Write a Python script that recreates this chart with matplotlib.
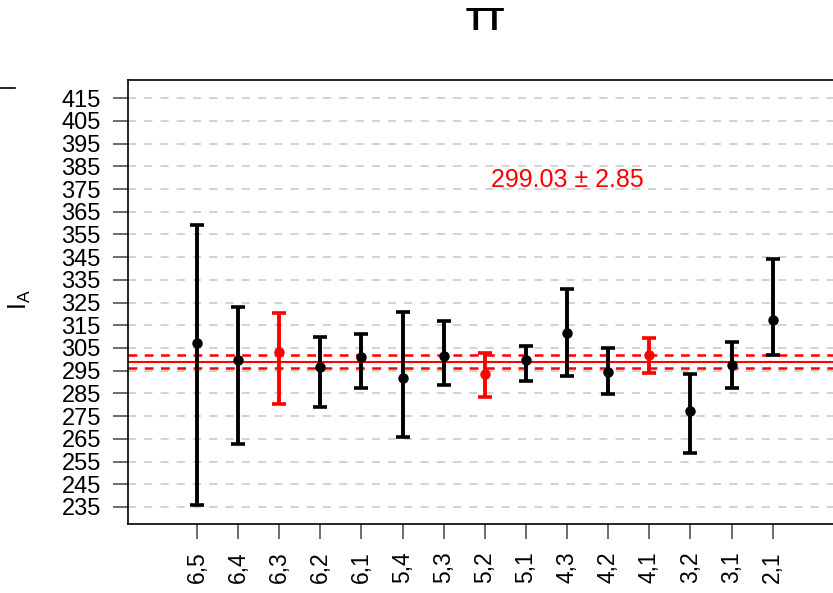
import numpy as np
import matplotlib
matplotlib.use("Agg")
import matplotlib.pyplot as plt
from matplotlib.lines import Line2D

plt.rcParams["font.family"] = ["Liberation Sans", "DejaVu Sans"]
plt.rcParams["mathtext.fontset"] = "custom"
plt.rcParams["mathtext.rm"] = "Liberation Sans"
plt.rcParams["mathtext.it"] = "Liberation Sans"

# values
labels = ["6,5", "6,4", "6,3", "6,2", "6,1", "5,4", "5,3", "5,2",
          "5,1", "4,3", "4,2", "4,1", "3,2", "3,1", "2,1"]
means = [307.1, 299.7, 303.4, 296.8, 300.9, 291.7, 301.6, 293.6,
         299.7, 311.7, 294.6, 302.1, 277.3, 297.4, 317.2]
upper = [359.1, 322.9, 320.2, 310.0, 311.2, 320.8, 316.9, 302.7,
         306.0, 330.9, 305.0, 309.3, 293.7, 307.5, 344.1]
lower = [235.7, 262.8, 280.5, 279.1, 287.4, 265.9, 288.7, 283.6,
         290.6, 292.7, 284.8, 294.2, 258.9, 287.4, 301.9]
red_labels = ["6,3", "5,2", "4,1"]
avg = 299.03
avg_err = 2.85
yticks = list(range(235, 416, 10))

fig = plt.figure(figsize=(8.33, 5.93), dpi=100)
# axes runs past the right edge, as in the reference
ax = fig.add_axes([128 / 833, 1 - 524 / 593, 727 / 833, 444 / 593])

x = np.arange(1, len(labels) + 1)
means = np.array(means)
upper = np.array(upper)
lower = np.array(lower)
is_red = np.array([l in red_labels for l in labels])

for y in yticks:
    ax.axhline(y, color="#cfcfcf", lw=1.3, ls=(0, (4.5, 4.5)), zorder=1)

ax.axhline(avg, color="red", lw=1.5, zorder=2)
ax.axhline(avg + avg_err, color="red", lw=1.8, ls=(0, (3.5, 3)), zorder=2)
ax.axhline(avg - avg_err, color="red", lw=1.8, ls=(0, (3.5, 3)), zorder=2)

for mask, col in [(~is_red, "black"), (is_red, "red")]:
    ax.errorbar(x[mask], means[mask],
                yerr=[means[mask] - lower[mask], upper[mask] - means[mask]],
                fmt="o", color=col, ms=6.5, elinewidth=2.8, capsize=5,
                capthick=2.6, zorder=3)

ax.text(10, 379, f"{avg:.2f} \u00b1 {avg_err:.2f}", color="red",
        fontsize=18, ha="center", va="center")

ax.set_xlim(1 - 69 / 41.14, 17)
ax.set_ylim(227.5, 423)
ax.set_xticks(x)
ax.set_xticklabels(labels, rotation=90, fontsize=16.5)
ax.set_yticks(yticks)
ax.set_yticklabels([str(v) for v in yticks], fontsize=17)
ax.tick_params(axis="both", length=10.5, width=1.1, color="#444444", pad=9)

for s in ax.spines.values():
    s.set_linewidth(1.2)
    s.set_color("black")

fig.text(20 / 833, 1 - 300 / 593, r"$\mathregular{I_A}$", rotation=90,
         fontsize=18, ha="center", va="center")
fig.text(485 / 833, 1 - 22 / 593, "TT", fontsize=23, fontweight="bold",
         ha="center", va="center")

# stray stroke from a neighbouring panel at top left
fig.add_artist(Line2D([0, 15 / 833], [1 - 88 / 593, 1 - 88 / 593],
                      color="black", lw=1.2))

fig.savefig("out.png", dpi=100)
